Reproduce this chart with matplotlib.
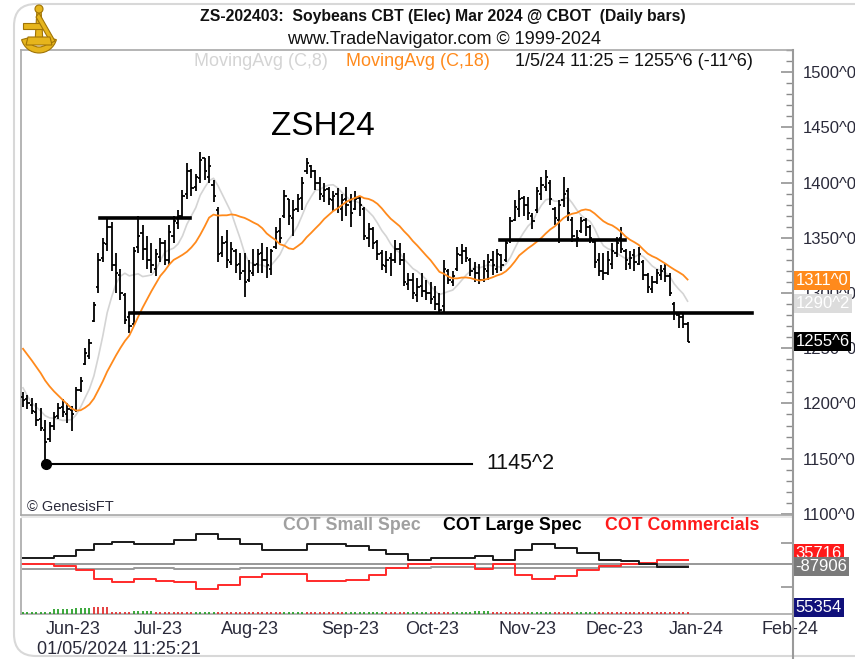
import numpy as np
import pandas as pd
import matplotlib
matplotlib.use("Agg")
import matplotlib.pyplot as plt
from matplotlib.patches import FancyBboxPatch, Rectangle, Wedge, Polygon
from matplotlib.lines import Line2D
from matplotlib.ticker import MultipleLocator
from matplotlib.transforms import IdentityTransform, blended_transform_factory

W, H = 855, 659

# ---- daily bars, ZSH24 (cents) ----
opens = [1206, 1204, 1199, 1192, 1186, 1176, 1168, 1180, 1189, 1197,
         1190, 1194, 1194, 1212, 1236, 1243, 1275, 1305, 1332, 1344,
         1360, 1325, 1316, 1298, 1278, 1272, 1342, 1354, 1340, 1330,
         1322, 1333, 1345, 1330, 1352, 1363, 1370, 1390, 1410, 1396,
         1404, 1422, 1405, 1398, 1375, 1336, 1346, 1328, 1338, 1326,
         1320, 1312, 1318, 1326, 1336, 1330, 1322, 1342, 1356, 1370,
         1385, 1368, 1376, 1386, 1410, 1415, 1410, 1400, 1388, 1394,
         1384, 1390, 1376, 1385, 1382, 1376, 1386, 1376, 1350, 1358,
         1346, 1336, 1324, 1332, 1330, 1340, 1330, 1308, 1312, 1298,
         1306, 1302, 1300, 1296, 1290, 1288, 1320, 1310, 1322, 1334,
         1338, 1330, 1322, 1318, 1312, 1320, 1330, 1322, 1334, 1330,
         1348, 1366, 1376, 1386, 1380, 1370, 1375, 1390, 1396, 1400,
         1376, 1366, 1384, 1392, 1366, 1348, 1356, 1366, 1360, 1346,
         1330, 1320, 1318, 1326, 1336, 1350, 1338, 1326, 1334, 1326,
         1328, 1316, 1304, 1310, 1316, 1322, 1315, 1290, 1280, 1278,
         1272]
highs = [1210, 1208, 1205, 1200, 1196, 1185, 1183, 1192, 1200, 1204,
         1200, 1198, 1215, 1224, 1250, 1258, 1292, 1336, 1350, 1367,
         1364, 1336, 1322, 1300, 1283, 1342, 1370, 1362, 1352, 1345,
         1340, 1350, 1348, 1362, 1370, 1375, 1393, 1418, 1412, 1408,
         1428, 1422, 1424, 1402, 1378, 1352, 1357, 1346, 1340, 1336,
         1336, 1330, 1340, 1340, 1345, 1342, 1340, 1360, 1368, 1393,
         1385, 1384, 1390, 1405, 1422, 1416, 1411, 1405, 1400, 1396,
         1392, 1395, 1390, 1396, 1390, 1392, 1388, 1378, 1363, 1360,
         1348, 1339, 1338, 1336, 1348, 1345, 1336, 1318, 1318, 1314,
         1318, 1312, 1310, 1306, 1300, 1330, 1322, 1320, 1342, 1344,
         1342, 1332, 1328, 1326, 1330, 1335, 1338, 1340, 1335, 1348,
         1369, 1384, 1393, 1388, 1387, 1372, 1396, 1405, 1411, 1402,
         1378, 1384, 1405, 1395, 1369, 1357, 1369, 1368, 1362, 1348,
         1336, 1336, 1338, 1345, 1351, 1360, 1340, 1338, 1340, 1342,
         1330, 1318, 1315, 1322, 1325, 1327, 1318, 1292, 1282, 1281,
         1274]
lows = [1197, 1195, 1190, 1180, 1175, 1145.25, 1165, 1176, 1186, 1188,
        1182, 1175, 1192, 1210, 1235, 1240, 1274, 1300, 1328, 1338,
        1320, 1300, 1294, 1272, 1264, 1270, 1336, 1330, 1322, 1318,
        1315, 1328, 1325, 1325, 1345, 1358, 1368, 1385, 1388, 1392,
        1400, 1402, 1400, 1382, 1328, 1333, 1323, 1325, 1318, 1312,
        1296, 1310, 1315, 1318, 1318, 1314, 1316, 1340, 1345, 1368,
        1362, 1352, 1373, 1375, 1408, 1404, 1393, 1384, 1382, 1380,
        1374, 1372, 1365, 1370, 1360, 1375, 1370, 1348, 1342, 1340,
        1330, 1321, 1318, 1315, 1327, 1325, 1306, 1303, 1295, 1292,
        1296, 1294, 1290, 1285, 1282, 1283, 1308, 1306, 1320, 1326,
        1328, 1315, 1310, 1308, 1310, 1312, 1316, 1318, 1320, 1328,
        1345, 1365, 1369, 1370, 1366, 1358, 1372, 1384, 1392, 1380,
        1362, 1345, 1378, 1365, 1346, 1342, 1354, 1352, 1345, 1323,
        1315, 1312, 1316, 1322, 1333, 1336, 1321, 1322, 1320, 1325,
        1312, 1300, 1300, 1308, 1312, 1310, 1297, 1276, 1268, 1268,
        1255.5]
closes = [1203, 1200, 1193, 1185, 1178, 1165, 1180, 1188, 1196, 1192,
          1195, 1190, 1212, 1220, 1246, 1255, 1289, 1330, 1345, 1360,
          1325, 1318, 1300, 1276, 1270, 1338, 1352, 1340, 1330, 1325,
          1335, 1345, 1330, 1355, 1365, 1370, 1388, 1410, 1395, 1405,
          1420, 1410, 1415, 1388, 1335, 1345, 1330, 1340, 1325, 1318,
          1310, 1320, 1325, 1335, 1330, 1325, 1338, 1355, 1350, 1388,
          1370, 1375, 1385, 1400, 1418, 1410, 1400, 1390, 1393, 1385,
          1388, 1378, 1384, 1380, 1372, 1385, 1380, 1352, 1358, 1345,
          1335, 1325, 1330, 1330, 1340, 1330, 1310, 1312, 1300, 1305,
          1302, 1300, 1295, 1290, 1285, 1322, 1312, 1315, 1335, 1338,
          1332, 1320, 1318, 1312, 1322, 1328, 1325, 1335, 1325, 1345,
          1365, 1378, 1385, 1380, 1372, 1365, 1392, 1398, 1405, 1385,
          1368, 1380, 1390, 1372, 1352, 1350, 1365, 1360, 1350, 1328,
          1320, 1318, 1330, 1338, 1345, 1340, 1330, 1332, 1328, 1335,
          1316, 1305, 1310, 1318, 1320, 1315, 1300, 1282, 1278, 1272,
          1255.75]
# closes before the first shown bar (only feed the moving averages)
warmup_closes = [1295, 1290, 1288, 1280, 1285, 1275, 1270, 1268, 1262,
                 1265, 1258, 1245, 1215, 1205, 1200, 1195, 1192]

month_labels = ["Jun-23", "Jul-23", "Aug-23", "Sep-23", "Oct-23",
                "Nov-23", "Dec-23", "Jan-24", "Feb-24"]
month_pos = [11.3, 30.5, 51.2, 73.8, 92.3, 113.8, 133.6, 152.0, 173.1]

# ---- weekly COT net positions (thousand contracts) ----
cot_week_start = [0, 7, 12, 16, 20, 25, 30, 34, 39, 44, 49, 54, 59, 64, 69, 73,
                  78, 82, 87, 92, 97, 102, 106, 111, 115, 120, 125, 130, 135,
                  139, 143, 147]
cot_large = [24, 32, 56, 80, 88, 80, 80, 96, 120, 100, 80, 56, 56, 80, 80, 72,
             56, 40, 16, 24, 24, 32, 16, 56, 80, 64, 44, 16, 12, 0, -12, -12]
cot_comm = [0, -8, -28, -64, -76, -64, -72, -76, -104, -88, -56, -44, -44, -72,
            -72, -68, -48, -20, 0, 0, 0, -24, 0, -48, -64, -52, -28, -8, 0, 4,
            16, 16]
cot_small = [-24, -24, -24, -22, -22, -20, -20, -22, -24, -22, -18, -20, -20,
             -20, -20, -20, -18, -18, -18, -16, -16, -18, -20, -18, -20, -18,
             -18, -16, -14, -12, -10, -10]
# small weekly histogram along the panel floor (+ green, - red)
cot_osc = [1, 4, 5, -6, -1, 2, -1, -1, 1, -1, -1, -1, 1, -1, -1, 1, 1, -1, 1,
           -1, 1, 2, -1, -1, 1, -1, 1, -1, -1, -1, -1, -1]

last_close_lbl, ma8_lbl, ma18_lbl = "1255^6", "1290^2", "1311^0"
last_close, ma8_last, ma18_last = 1255.75, 1290.25, 1311.0
low_price = 1145.25

FONT = ["Liberation Sans", "DejaVu Sans"]
plt.rcParams["font.family"] = FONT

ORANGE = "#ff8a1c"
LIGHT = "#d4d4d4"
FRAME = "#a8a8a8"
TXT = "#2a2a3a"

fig = plt.figure(figsize=(W / 100, H / 100), dpi=100)


def fx(px):
    return px / W


def fy(py):
    return 1 - py / H


# outer rounded frame
fig.patches.append(FancyBboxPatch((14, 3), 900, 652, boxstyle="round,pad=0,rounding_size=22",
                                  transform=IdentityTransform(), fc="none", ec="#d8d8d8",
                                  lw=1.5, zorder=0))

# ---- price panel ----
ax = fig.add_axes([fx(21), fy(515), fx(793) - fx(21), fy(50) - fy(515)])
ax.set_zorder(2)
n = len(closes)
x = np.arange(n)
ax.vlines(x, lows, highs, color="black", lw=1.3, zorder=4)
ax.hlines(opens, x - 0.5, x, color="black", lw=1.3, zorder=4)
ax.hlines(closes, x, x + 0.5, color="black", lw=1.3, zorder=4)

all_c = pd.Series(warmup_closes + closes, dtype=float)
ma8 = all_c.rolling(8).mean().iloc[len(warmup_closes):].values
ma18 = all_c.rolling(18).mean().iloc[len(warmup_closes):].values
ax.plot(x, ma8, color=LIGHT, lw=1.2, zorder=3)
ax.plot(x, ma18, color=ORANGE, lw=1.3, zorder=5)

# drawn trend lines
ax.plot([17.4, 37.7], [1368, 1368], color="black", lw=2.6, zorder=6)
ax.plot([24.2, 164.6], [1282, 1282], color="black", lw=2.6, zorder=6)
ax.plot([107.7, 135.9], [1348, 1348], color="black", lw=2.6, zorder=6)
ax.plot([5.2, 101.3], [low_price, low_price], color="black", lw=1.5, zorder=6)
ax.plot([5.2], [low_price], "o", color="black", ms=7, zorder=7)
ax.text(104.5, low_price, "1145^2", fontsize=15.5, va="center", ha="left", color="#111")
ax.text(56, 1451, "ZSH24", fontsize=24, va="center", ha="left", color="black")
ax.text(1.0, 1106, "© GenesisFT", fontsize=10.5, va="center", ha="left", color=TXT)

ax.set_xlim(-0.45, 173.8)
ax.set_ylim(1099, 1520)
ax.yaxis.tick_right()
ax.yaxis.set_major_locator(MultipleLocator(50))
ax.yaxis.set_minor_locator(MultipleLocator(10))
ax.set_yticks(np.arange(1100, 1501, 50))
ax.set_yticklabels([f"{int(v)}^0" for v in np.arange(1100, 1501, 50)])
ax.tick_params(axis="y", which="major", direction="in", length=9, width=1.1,
               color="#8a8a8a", labelsize=12, labelcolor=TXT, pad=7)
ax.tick_params(axis="y", which="minor", direction="in", length=5, width=1.0, color="#8a8a8a")
ax.set_xticks([])
for s in ["top", "left", "bottom", "right"]:
    ax.spines[s].set_color(FRAME)
    ax.spines[s].set_linewidth(1.2)

# value boxes at the right edge
tr = blended_transform_factory(ax.transAxes, ax.transData)
for lbl, val, bg in [(ma18_lbl, ma18_last, ORANGE), (ma8_lbl, ma8_last, "#dcdcdc"),
                     (last_close_lbl, last_close, "black")]:
    ax.text(1.003, val, lbl, transform=tr, fontsize=12, color="white", va="center",
            ha="left", clip_on=False, zorder=10,
            bbox=dict(boxstyle="square,pad=0.12", fc=bg, ec="none"))

# ---- COT panel ----
fig.patches.append(Rectangle((fx(21), fy(518)), fx(793) - fx(21), fy(514) - fy(518),
                             transform=fig.transFigure, fc="#e8e8e8", ec="none", zorder=1))
ax2 = fig.add_axes([fx(21), fy(614), fx(793) - fx(21), fy(519) - fy(614)])
ax2.set_zorder(2)
ax2.set_xlim(-0.45, 173.8)
ax2.set_ylim(-204, 180)
ax2.axhline(0, color="#909090", lw=1.3, zorder=1)
edges = cot_week_start + [n - 1]
ax2.step(edges, cot_small + [cot_small[-1]], where="post", color="#9a9a9a", lw=1.4, zorder=2)
ax2.step(edges, cot_comm + [cot_comm[-1]], where="post", color="#ff2a2a", lw=1.4, zorder=3)
ax2.step(edges, cot_large + [cot_large[-1]], where="post", color="#1a1a1a", lw=1.4, zorder=4)

for k, s in enumerate(cot_week_start):
    e = edges[k + 1] + (1 if k == len(cot_week_start) - 1 else 0)
    v = cot_osc[k]
    col = "#1a9a1a" if v > 0 else "#e02020"
    ax2.vlines(np.arange(s, e), -203, -203 + 4 + abs(v) * 4, color=col, lw=1.2, zorder=6,
               clip_on=False)

ax2.set_xticks(month_pos)
ax2.set_xticklabels(month_labels)
ax2.tick_params(axis="x", length=0, labelsize=13, labelcolor=TXT, pad=5)
ax2.yaxis.tick_right()
ax2.set_yticks([85, -95])
ax2.set_yticklabels([])
ax2.tick_params(axis="y", direction="in", length=9, width=1.1, color="#8a8a8a")
for s in ["top", "left", "bottom", "right"]:
    ax2.spines[s].set_color(FRAME)
    ax2.spines[s].set_linewidth(1.2)
ax2.spines["top"].set_visible(False)

tr2 = blended_transform_factory(ax2.transAxes, ax2.transData)
ax2.text(1.003, 42, "35716", transform=tr2, fontsize=12, color="white", va="center",
         ha="left", clip_on=False, zorder=9, bbox=dict(boxstyle="square,pad=0.12", fc="#ff1a1a", ec="none"))
ax2.text(1.003, -10, "-87906", transform=tr2, fontsize=12, color="white", va="center",
         ha="left", clip_on=False, zorder=10, bbox=dict(boxstyle="square,pad=0.12", fc="#7a7a7a", ec="none"))
ax2.text(1.003, -176, "55354", transform=tr2, fontsize=12, color="white", va="center",
         ha="left", clip_on=False, zorder=10, bbox=dict(boxstyle="square,pad=0.12", fc="#10107a", ec="none"))

# right axis line running down the full height
fig.lines.append(Line2D([fx(793), fx(793)], [fy(50), fy(659)], transform=fig.transFigure,
                        color="#9a9a9a", lw=1.5, zorder=3))

# ---- header texts ----
fig.text(fx(443), fy(17), "ZS-202403:  Soybeans CBT (Elec) Mar 2024 @ CBOT  (Daily bars)",
         fontsize=11.3, fontweight="bold", ha="center", va="center", color="#111")
fig.text(fx(444), fy(40), "www.TradeNavigator.com © 1999-2024", fontsize=13,
         ha="center", va="center", color="#111")
fig.text(fx(194), fy(62), "MovingAvg (C,8)", fontsize=13, ha="left", va="center", color=LIGHT,
         zorder=5)
fig.text(fx(346), fy(62), "MovingAvg (C,18)", fontsize=13, ha="left", va="center", color=ORANGE,
         zorder=5)
fig.text(fx(515), fy(62), "1/5/24 11:25 = 1255^6 (-11^6)", fontsize=13, ha="left",
         va="center", color="#111", zorder=5)

fig.text(fx(283), fy(525), "COT Small Spec", fontsize=12.8, fontweight="bold", ha="left",
         va="center", color="#a0a0a0", zorder=5)
fig.text(fx(443), fy(525), "COT Large Spec", fontsize=12.8, fontweight="bold", ha="left",
         va="center", color="black", zorder=5)
fig.text(fx(605), fy(525), "COT Commercials", fontsize=12.8, fontweight="bold", ha="left",
         va="center", color="#ff1a1a", zorder=5)

fig.text(fx(37), fy(650), "01/05/2024 11:25:21", fontsize=13, ha="left", va="center", color=TXT)

# gold sextant emblem top-left
lg = fig.add_axes([fx(20), fy(57), fx(58) - fx(20), fy(4) - fy(57)])
lg.set_zorder(3)
lg.set_xlim(0, 38)
lg.set_ylim(0, 53)
lg.axis("off")
gold, dark = "#e6b51c", "#a07406"
lg.add_patch(Wedge((19, 22), 18, 195, 345, width=6, fc=gold, ec=dark, lw=0.8))
lg.add_patch(Polygon([[17, 48], [21, 48], [23, 14], [15, 14]], fc=gold, ec=dark, lw=0.8))
lg.add_patch(Polygon([[3, 34], [23, 34], [23, 28], [3, 28]], fc=gold, ec=dark, lw=0.8))
lg.add_patch(Polygon([[19, 44], [35, 16], [31, 14], [16, 40]], fc=gold, ec=dark, lw=0.8))
lg.add_patch(Polygon([[8, 20], [30, 20], [32, 12], [6, 12]], fc=gold, ec=dark, lw=0.8))
lg.add_patch(Wedge((19, 48), 4, 0, 360, fc=gold, ec=dark, lw=0.8))

fig.savefig("out.png", dpi=100)
